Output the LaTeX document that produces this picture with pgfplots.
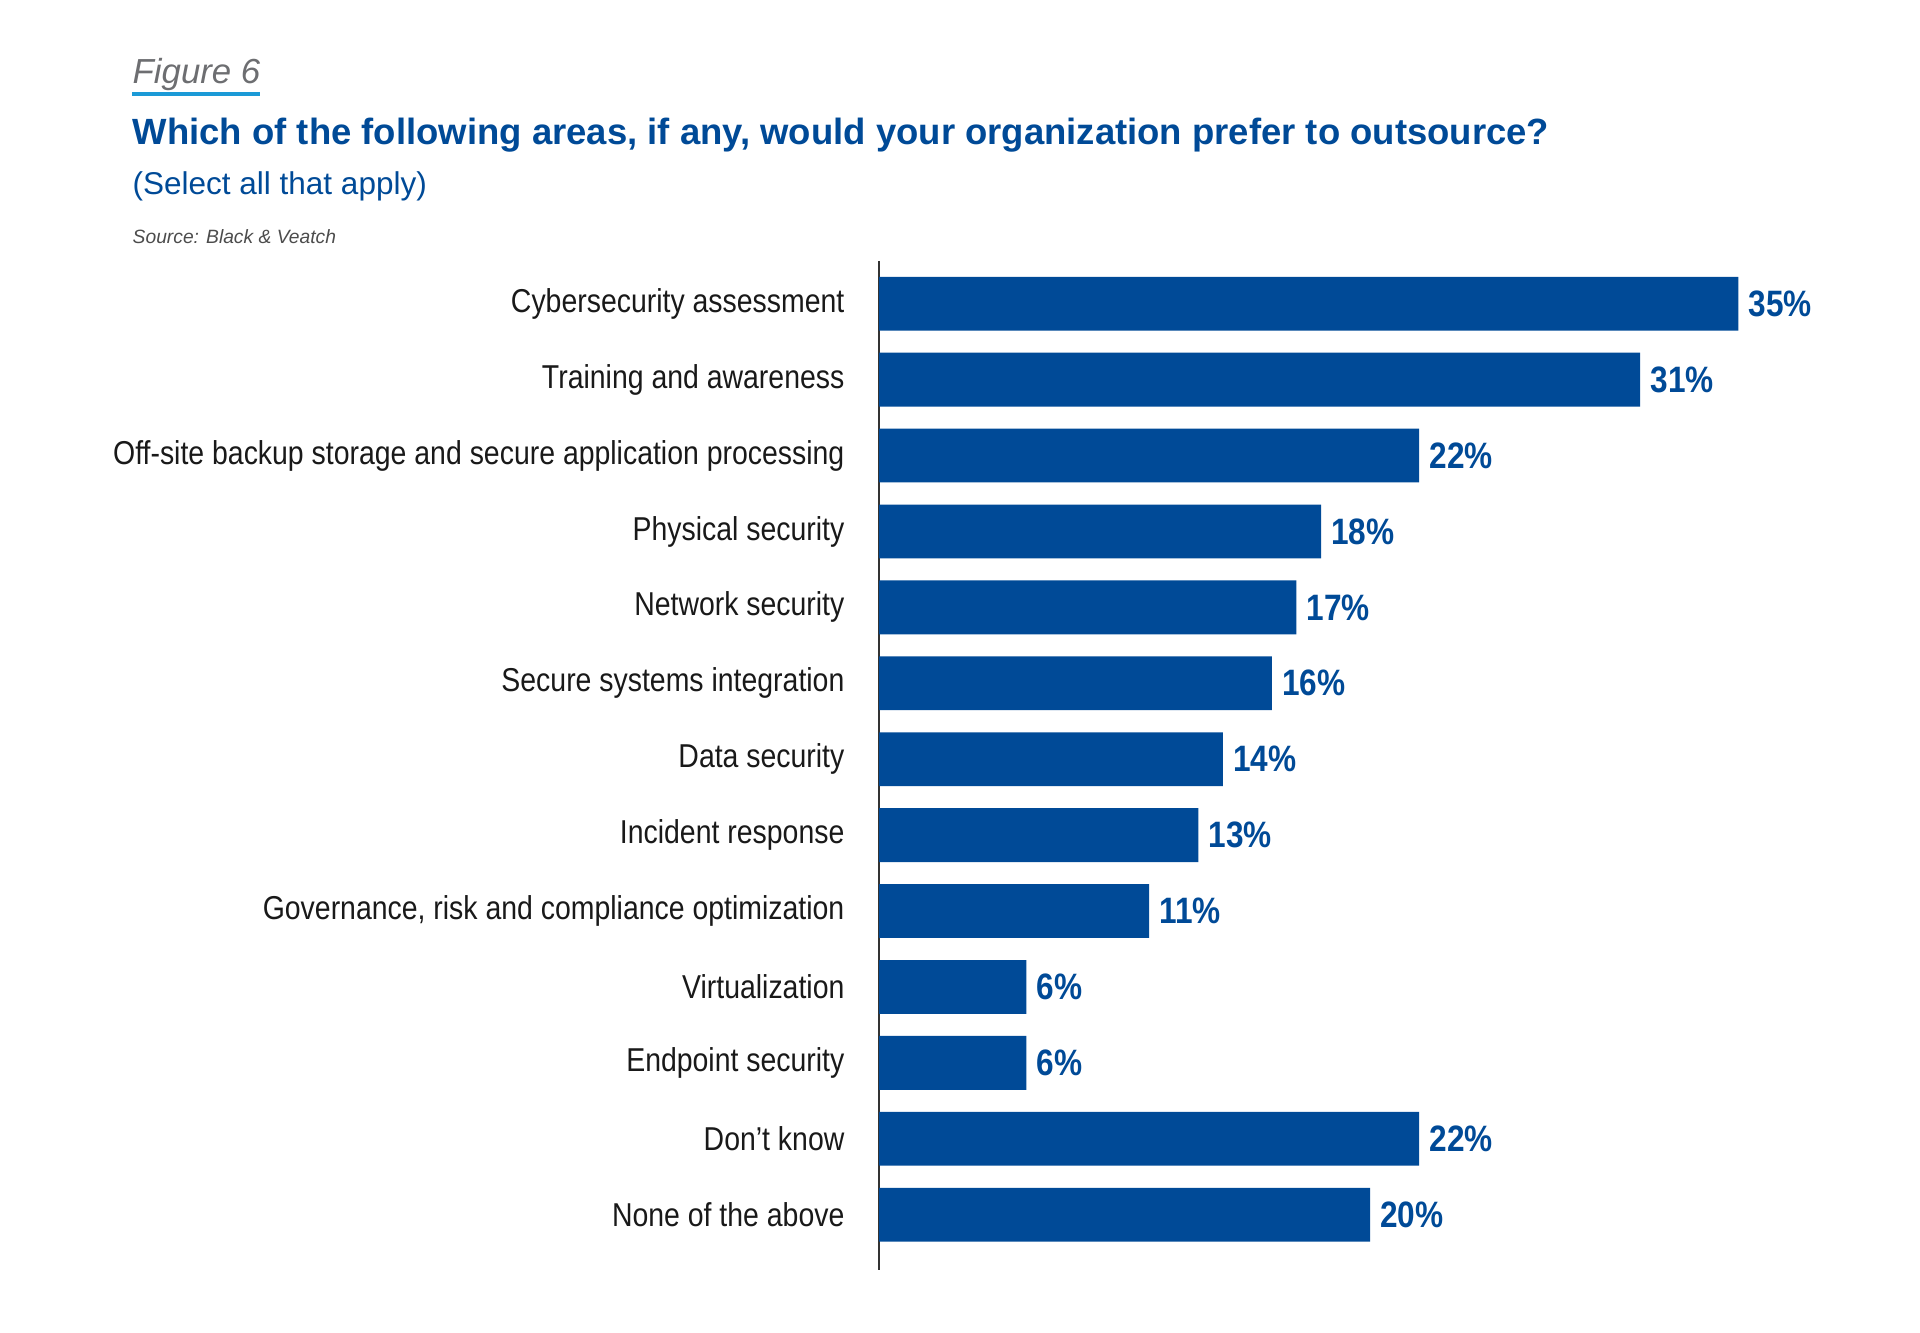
\documentclass[border=0pt]{standalone}
\usepackage{fontspec}
\setmainfont{Liberation Sans}
\newfontfamily\condfont{Liberation Sans}[FakeStretch=0.86]
\usepackage{pgfplots}
\pgfplotsset{compat=1.18}
\definecolor{barblue}{HTML}{004A97}
\definecolor{figgray}{HTML}{6D6E71}
\definecolor{lineblue}{HTML}{1B9AD7}
\begin{document}
\begin{tikzpicture}
\path[use as bounding box] (-359pt,-25.5pt) rectangle (425pt,518.5pt);
\node[anchor=base west, inner sep=0pt, font=\itshape\fontsize{14.2}{17}\selectfont, text=figgray] at (-305pt,484.5pt) {Figure 6};
\draw[lineblue, line width=1.5pt] (-305pt,480pt) -- (-253pt,480pt);
\node[anchor=base west, inner sep=0pt, font=\bfseries\fontsize{14.9}{18}\selectfont, text=barblue] at (-305pt,459.5pt) {Which of the following areas, if any, would your organization prefer to outsource?};
\node[anchor=base west, inner sep=0pt, font=\fontsize{12.86}{16}\selectfont, text=barblue] at (-305pt,439pt) {(Select all that apply)};
\node[anchor=base west, inner sep=0pt, font=\itshape\fontsize{7.86}{10}\selectfont, text=black!70] at (-305pt,419pt) {Source: Black \& Veatch};
\begin{axis}[
  at={(0pt,0pt)}, anchor=south west,
  scale only axis, width=421pt, height=412pt,
  xmin=0, xmax=42, ymin=-0.565, ymax=12.726, y dir=reverse,
  xbar, bar width=0.71,
  axis x line=none, axis y line*=left,
  y axis line style={draw=black!80, line width=0.75pt},
  ytick={0,...,12},
  yticklabels={{Cybersecurity assessment},{Training and awareness},{Off-site backup storage and secure application processing},{Physical security},{Network security},{Secure systems integration},{Data security},{Incident response},{Governance, risk and compliance optimization},{Virtualization},{Endpoint security},{Don’t know},{None of the above}},
  major tick length=0pt,
  yticklabel style={font=\condfont\fontsize{13.5}{15}\selectfont, text=black!90, anchor=east, inner sep=0pt, xshift=-14pt},
  point meta=x,
  nodes near coords={\pgfmathprintnumber[assume math mode=true]{\pgfplotspointmeta}\%},
  nodes near coords style={font=\condfont\bfseries\fontsize{15}{17}\selectfont, text=barblue, anchor=west, inner sep=4pt},
]
\addplot[fill=barblue, draw=none] coordinates {(35,0) (31,1) (22,2) (18,3) (17,4) (16,5) (14,6) (13,7) (11,8) (6,9) (6,10) (22,11) (20,12)};
\end{axis}
\end{tikzpicture}
\end{document}
